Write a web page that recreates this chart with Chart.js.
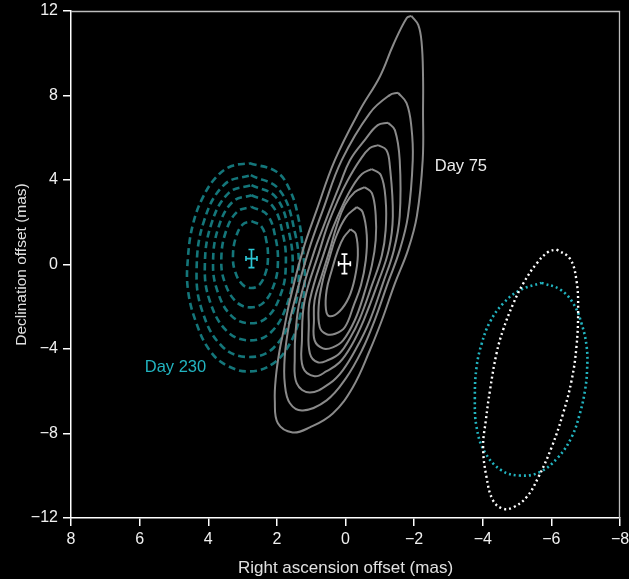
<!DOCTYPE html>
<html><head><meta charset="utf-8">
<script src="https://cdn.jsdelivr.net/npm/chart.js@4.4.1/dist/chart.umd.min.js"></script>
<style>html,body{margin:0;padding:0;background:#000;}#wrap{width:629px;height:579px;}</style>
</head><body><div id="wrap"><canvas id="c" width="629" height="579"></canvas></div>
<script>
// ---- axes ----
const xMin = -8, xMax = 8, xStep = 2;
const yMin = -12, yMax = 12, yStep = 4;
const xTitle = 'Right ascension offset (mas)';
const yTitle = 'Declination offset (mas)';

// ---- Day 75 contours (solid grey), [RA offset, Dec offset] in mas ----
const day75Contour1 = [[-1.92,11.77],[-2.12,11.34],[-2.22,10.47],[-2.26,8.89],[-2.26,7.31],[-2.25,4.94],[-2.08,2.29],[-1.82,0.68],[-1.44,-0.89],[-1.06,-2.64],[-0.71,-4.06],[-0.21,-5.82],[0.37,-7.05],[1.04,-7.71],[1.54,-7.95],[1.97,-7.52],[2.06,-6.43],[2.03,-5.34],[1.92,-4.06],[1.77,-2.88],[1.62,-1.69],[1.24,0.68],[0.84,2.57],[0.31,4.94],[-0.42,7.31],[-1.00,8.89],[-1.39,10.39],[-1.78,11.66]];
const day75Contour2 = [[-1.53,8.13],[-1.78,7.64],[-1.92,6.52],[-1.96,4.94],[-1.82,2.29],[-1.58,0.68],[-1.23,-0.89],[-0.85,-2.64],[-0.48,-4.06],[-0.01,-5.39],[0.55,-6.43],[1.24,-6.91],[1.62,-6.57],[1.77,-5.63],[1.77,-4.35],[1.65,-2.88],[1.48,-1.69],[1.07,0.68],[0.66,2.57],[0.11,4.94],[-0.71,7.17],[-1.29,8.02]];
const day75Contour3 = [[-1.24,6.71],[-1.44,6.36],[-1.58,4.94],[-1.58,2.29],[-1.41,0.68],[-1.09,-0.89],[-0.71,-2.64],[-0.33,-3.92],[0.08,-5.01],[0.46,-5.63],[1.04,-6.06],[1.42,-5.63],[1.48,-4.39],[1.45,-3.11],[1.33,-1.69],[0.90,0.68],[0.66,1.72],[0.46,2.57],[0.17,3.76],[-0.13,4.94],[-0.56,5.89],[-0.94,6.60]];
const day75Contour4 = [[-0.95,5.65],[-1.19,5.42],[-1.29,4.71],[-1.38,2.29],[-1.26,0.68],[-0.94,-0.89],[-0.53,-2.64],[-0.18,-3.82],[0.17,-4.63],[0.55,-5.05],[0.90,-5.29],[1.24,-4.87],[1.27,-3.59],[1.19,-1.69],[0.75,0.68],[0.52,1.86],[0.22,3.05],[-0.07,4.00],[-0.42,4.94],[-0.71,5.51]];
const day75Contour5 = [[-0.76,4.52],[-1.03,4.23],[-1.17,3.05],[-1.17,1.63],[-1.06,0.44],[-0.77,-0.98],[-0.42,-2.55],[-0.13,-3.49],[0.17,-4.20],[0.50,-4.52],[0.81,-4.63],[1.04,-4.20],[1.07,-2.88],[1.04,-1.69],[0.60,0.68],[0.37,1.72],[0.08,2.81],[-0.18,3.62],[-0.48,4.28]];
const day75Contour6 = [[-0.56,3.66],[-0.77,3.38],[-0.88,2.34],[-0.88,1.15],[-0.77,-0.03],[-0.53,-1.45],[-0.27,-2.64],[0.07,-3.59],[0.37,-3.92],[0.66,-3.97],[0.90,-3.59],[0.92,-2.64],[0.90,-1.69],[0.69,-0.51],[0.46,0.68],[0.25,1.86],[0.02,2.81],[-0.27,3.43]];
const day75Contour7 = [[-0.33,2.72],[-0.50,2.48],[-0.62,1.39],[-0.59,0.20],[-0.45,-0.98],[-0.24,-1.93],[0.02,-2.97],[0.30,-3.28],[0.55,-3.30],[0.75,-2.97],[0.78,-1.93],[0.66,-0.74],[0.49,0.20],[0.28,1.29],[-0.01,2.24]];
const day75Contour8 = [[-0.15,1.67],[-0.30,1.44],[-0.36,0.44],[-0.27,-0.65],[-0.10,-1.55],[0.17,-2.21],[0.46,-2.45],[0.57,-2.12],[0.55,-1.22],[0.40,-0.27],[0.22,0.68],[0.05,1.29]];

// ---- Day 230 contours (dashed teal) ----
const day230Contour1 = [[2.79,4.79],[2.01,4.39],[1.62,3.52],[1.38,2.26],[1.24,0.68],[1.19,-0.89],[1.33,-2.48],[1.62,-3.74],[2.11,-4.69],[2.79,-5.06],[3.47,-4.77],[3.96,-4.06],[4.34,-2.80],[4.59,-1.22],[4.59,0.36],[4.44,1.94],[4.15,3.20],[3.76,4.15],[3.32,4.66]];
const day230Contour2 = [[2.76,4.23],[1.93,3.54],[1.48,1.56],[1.36,-0.51],[1.54,-2.32],[2.10,-3.95],[2.85,-4.38],[3.60,-3.87],[4.17,-2.23],[4.34,-0.29],[4.12,2.08],[3.52,3.80]];
const day230Contour3 = [[2.74,3.76],[2.02,3.17],[1.64,1.48],[1.54,-0.28],[1.69,-1.83],[2.18,-3.22],[2.82,-3.59],[3.46,-3.15],[3.95,-1.75],[4.10,-0.10],[3.91,1.92],[3.40,3.39]];
const day230Contour4 = [[2.74,3.28],[2.14,2.80],[1.82,1.40],[1.74,-0.05],[1.87,-1.33],[2.27,-2.48],[2.80,-2.78],[3.33,-2.42],[3.73,-1.27],[3.86,0.10],[3.70,1.77],[3.28,2.98]];
const day230Contour5 = [[2.74,2.73],[2.28,2.35],[2.04,1.26],[1.97,0.11],[2.07,-0.89],[2.38,-1.79],[2.79,-2.03],[3.20,-1.74],[3.52,-0.84],[3.62,0.23],[3.49,1.54],[3.16,2.49]];
const day230Contour6 = [[2.74,2.05],[2.45,1.80],[2.30,1.07],[2.26,0.31],[2.32,-0.35],[2.51,-0.96],[2.77,-1.11],[3.02,-0.92],[3.22,-0.32],[3.28,0.39],[3.20,1.26],[3.00,1.89]];

// ---- beam ellipses (dotted) ----
const beamDay75 = [[-6.15,0.71],[-6.54,0.28],[-6.73,-0.74],[-6.78,-2.17],[-6.73,-3.91],[-6.59,-5.48],[-6.34,-7.06],[-6.01,-8.64],[-5.62,-10.07],[-5.28,-11.01],[-4.89,-11.49],[-4.59,-11.56],[-4.30,-11.17],[-4.11,-10.07],[-4.01,-8.64],[-4.09,-7.38],[-4.21,-5.96],[-4.40,-4.22],[-4.59,-3.11],[-4.89,-1.85],[-5.18,-0.90],[-5.57,0.05],[-5.91,0.60]];
const beamDay230 = [[-5.71,-0.87],[-6.25,-1.18],[-6.64,-1.85],[-6.88,-2.80],[-7.03,-3.91],[-7.04,-5.01],[-6.98,-5.96],[-6.83,-7.06],[-6.59,-8.17],[-6.20,-9.12],[-5.66,-9.83],[-5.08,-9.99],[-4.55,-9.75],[-4.06,-8.88],[-3.82,-7.70],[-3.77,-6.27],[-3.82,-4.85],[-3.97,-3.74],[-4.21,-2.72],[-4.59,-1.85],[-5.08,-1.22]];

// ---- fitted positions with errors ----
const day75Position = {x: 0.03, y: 0.03, xErr: 0.17, yErr: 0.46};
const day230Position = {x: 2.74, y: 0.28, xErr: 0.16, yErr: 0.43};

// ---- annotations ----
const day75Label = {text: 'Day 75', x: -2.60, y: 4.44};
const day230Label = {text: 'Day 230', x: 5.85, y: -5.10};

// ---- styling ----
const FONT = '"Liberation Sans", Arial, Helvetica, sans-serif';
const GREY = '#8a8a8a';
const TEAL_DASH = 'rgba(22,128,132,0.92)';
const TEAL_DOT = '#22b4c0';
const CYAN = '#2cc6d4';

function loop(arr) { const pts = arr.map(p => ({x: p[0], y: p[1]})); pts.push({x: arr[0][0], y: arr[0][1]}); return pts; }

const datasets = [];
[day75Contour1, day75Contour2, day75Contour3, day75Contour4, day75Contour5, day75Contour6, day75Contour7, day75Contour8].forEach(c => {
  datasets.push({data: loop(c), showLine: true, borderColor: GREY, borderWidth: 2, tension: 0.4, pointRadius: 0, fill: false});
});
[day230Contour1, day230Contour2, day230Contour3, day230Contour4, day230Contour5, day230Contour6].forEach(c => {
  datasets.push({data: loop(c), showLine: true, borderColor: TEAL_DASH, borderWidth: 2.6, borderDash: [7, 4], tension: 0.4, pointRadius: 0, fill: false});
});
datasets.push({data: loop(beamDay75), showLine: true, borderColor: '#ffffff', borderWidth: 2.4, borderDash: [2, 3], tension: 0.4, pointRadius: 0, fill: false});
datasets.push({data: loop(beamDay230), showLine: true, borderColor: TEAL_DOT, borderWidth: 2.6, borderDash: [2, 3], tension: 0.4, pointRadius: 0, fill: false});

function fmt(v) { v = Math.round(v); return v < 0 ? '\u2212' + Math.abs(v) : String(v); }

function drawCross(ctx, xs, ys, p, color) {
  const cx = xs.getPixelForValue(p.x), cy = ys.getPixelForValue(p.y);
  const x0 = xs.getPixelForValue(p.x + p.xErr), x1 = xs.getPixelForValue(p.x - p.xErr);
  const y0 = ys.getPixelForValue(p.y + p.yErr), y1 = ys.getPixelForValue(p.y - p.yErr);
  ctx.strokeStyle = color; ctx.lineWidth = 1.7;
  ctx.beginPath();
  ctx.moveTo(cx, y0); ctx.lineTo(cx, y1);
  ctx.moveTo(x0, cy); ctx.lineTo(x1, cy);
  ctx.moveTo(cx - 3, y0); ctx.lineTo(cx + 3, y0);
  ctx.moveTo(cx - 3, y1); ctx.lineTo(cx + 3, y1);
  ctx.moveTo(x0, cy - 2.5); ctx.lineTo(x0, cy + 2.5);
  ctx.moveTo(x1, cy - 2.5); ctx.lineTo(x1, cy + 2.5);
  ctx.stroke();
}

const overlay = {
  id: 'overlay',
  beforeDraw(chart) {
    const ctx = chart.ctx; ctx.save(); ctx.fillStyle = '#000'; ctx.fillRect(0, 0, chart.width, chart.height); ctx.restore();
  },
  afterDatasetsDraw(chart) {
    const ctx = chart.ctx, a = chart.chartArea, xs = chart.scales.x, ys = chart.scales.y;
    ctx.save();
    ctx.strokeStyle = '#bdbdbd'; ctx.lineWidth = 1.3;
    ctx.beginPath();
    ctx.moveTo(a.left, a.top + 0.5); ctx.lineTo(a.right - 0.5, a.top + 0.5); ctx.lineTo(a.right - 0.5, a.bottom);
    ctx.stroke();
    drawCross(ctx, xs, ys, day230Position, CYAN);
    drawCross(ctx, xs, ys, day75Position, '#ffffff');
    ctx.font = '16.5px ' + FONT; ctx.textAlign = 'left'; ctx.textBaseline = 'alphabetic';
    ctx.fillStyle = '#ececec';
    ctx.fillText(day75Label.text, xs.getPixelForValue(day75Label.x), ys.getPixelForValue(day75Label.y));
    ctx.fillStyle = TEAL_DOT;
    ctx.fillText(day230Label.text, xs.getPixelForValue(day230Label.x), ys.getPixelForValue(day230Label.y));
    ctx.restore();
  },
  afterDraw(chart) {
    const ctx = chart.ctx, a = chart.chartArea;
    ctx.save();
    ctx.fillStyle = '#e0e0e0';
    ctx.font = '17px ' + FONT; ctx.textAlign = 'center'; ctx.textBaseline = 'alphabetic';
    ctx.fillText(xTitle, (a.left + a.right) / 2, 573);
    ctx.translate(25.5, (a.top + a.bottom) / 2);
    ctx.rotate(-Math.PI / 2);
    ctx.font = '15.5px ' + FONT;
    ctx.fillText(yTitle, 0, 0);
    ctx.restore();
  }
};

function zeroPad(s) { s.paddingTop = 0; s.paddingBottom = 0; s.paddingLeft = 0; s.paddingRight = 0; }

const tickFont = {family: FONT, size: 16};
new Chart(document.getElementById('c'), {
  type: 'scatter',
  data: {datasets},
  options: {
    responsive: false, animation: false, devicePixelRatio: 1,
    layout: {padding: {top: 11, right: 9, left: 0, bottom: 0}},
    plugins: {legend: {display: false}, tooltip: {enabled: false}},
    scales: {
      x: {
        type: 'linear', reverse: true, min: xMin, max: xMax,
        ticks: {stepSize: xStep, autoSkip: false, color: '#f0f0f0', font: tickFont, padding: 4, callback: fmt, maxRotation: 0},
        grid: {drawOnChartArea: false, drawTicks: true, tickLength: 8, color: '#ffffff', lineWidth: 1.5},
        border: {display: true, color: '#ffffff', width: 1.5},
        afterFit(s) { s.height = 61; zeroPad(s); }
      },
      y: {
        type: 'linear', min: yMin, max: yMax,
        ticks: {stepSize: yStep, autoSkip: false, color: '#f0f0f0', font: tickFont, padding: 5, callback: fmt},
        grid: {drawOnChartArea: false, drawTicks: true, tickLength: 8, color: '#ffffff', lineWidth: 1.5},
        border: {display: true, color: '#ffffff', width: 1.5},
        afterFit(s) { s.width = 71; zeroPad(s); }
      }
    }
  },
  plugins: [overlay]
});
</script>
</body></html>
